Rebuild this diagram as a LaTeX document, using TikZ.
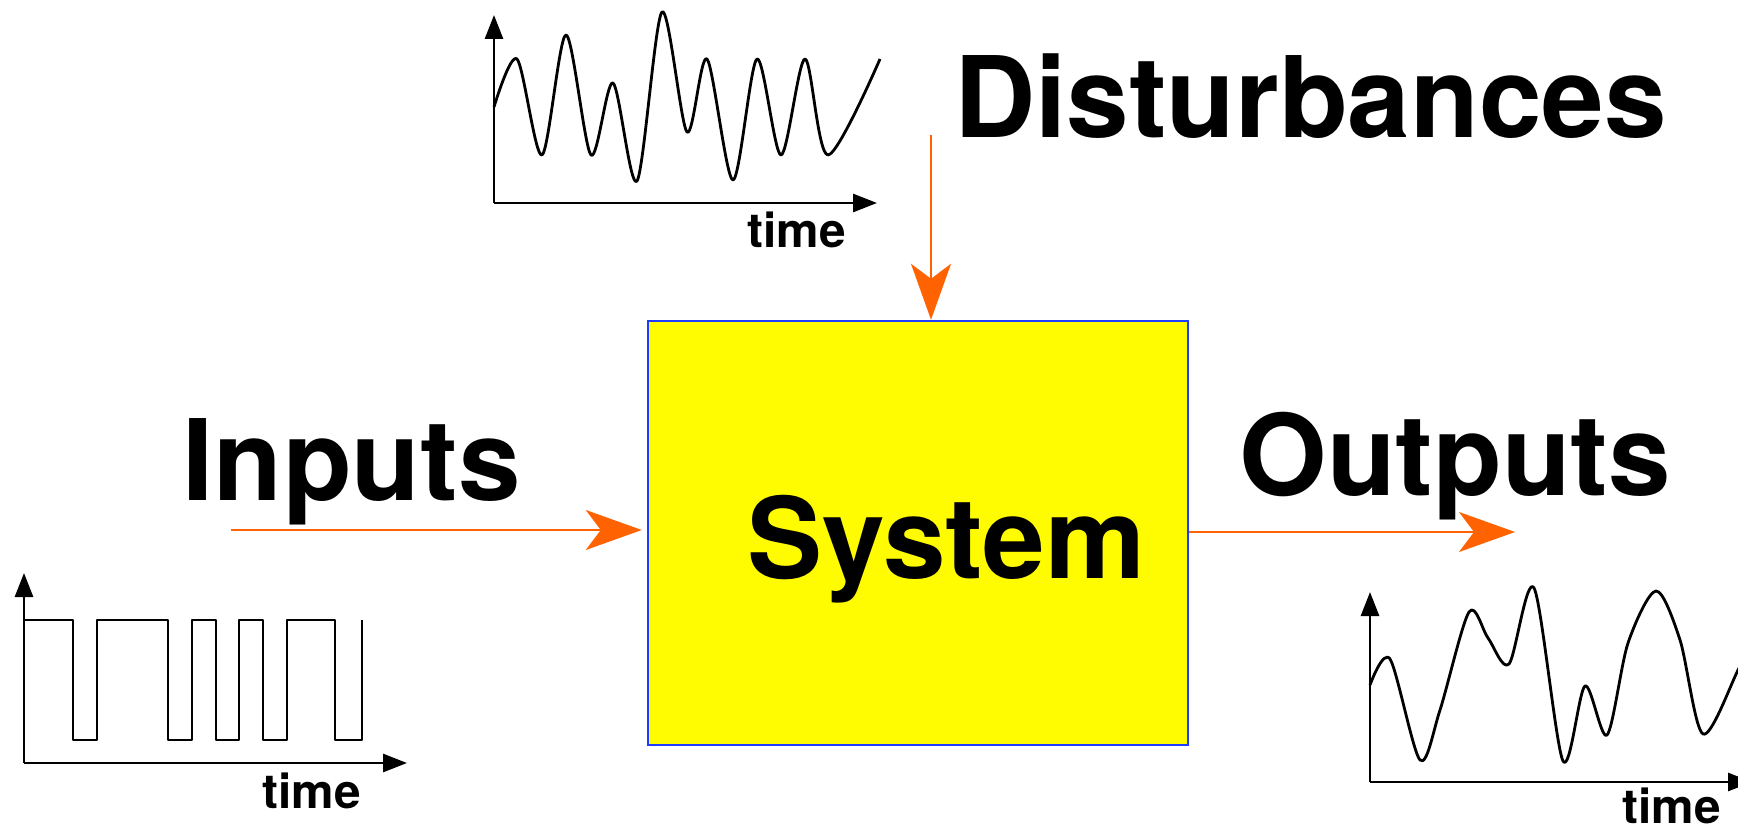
\documentclass[tikz,border=0pt]{standalone}
\usepackage{fontspec}
\setmainfont{TeX Gyre Heros}
\usepackage{tikz}
\usetikzlibrary{arrows.meta,positioning}
\usepackage{xcolor}
\definecolor{sysyellow}{RGB}{255,251,0}
\definecolor{sysblue}{RGB}{30,60,255}
\definecolor{sigorange}{RGB}{255,98,0}
\tikzstyle{sysblock} = [rectangle, minimum width=5.4cm, minimum height=4.24cm, draw=sysblue, fill=sysyellow, line width=0.7pt]
\tikzstyle{sigarrow} = [line width=0.6pt, color=sigorange, -{Stealth[length=5.6mm, width=4mm, inset=1.5mm]}]
\tikzstyle{axisline} = [line width=0.8pt, -{Triangle[length=2.4mm, width=1.8mm]}]
\tikzstyle{signal} = [line width=0.8pt, line join=round]
\tikzstyle{biglabel} = [inner sep=0pt, anchor=base west, font=\bfseries\fontsize{32}{36}\selectfont]
\tikzstyle{timelabel} = [inner sep=0pt, anchor=base west, font=\bfseries\fontsize{13.6}{16}\selectfont]

\begin{document}
\begin{tikzpicture}
\useasboundingbox (0,0) rectangle (17.38,8.31);

% System block
\node[sysblock] (sys) at (9.18,2.98) {};
\node[biglabel] (systxt) at (7.465,2.53) {System};

% Big labels
\node[biglabel] (dist) at (9.535,6.937) {Disturbances};
\node[biglabel] (inp) at (1.82,3.31) {Inputs};
\node[biglabel] (outp) at (12.39,3.35) {Outputs};

% Loose arrow ends
\coordinate (dsrc) at (9.31,6.96);
\coordinate (isrc) at (2.31,3.01);
\coordinate (odst) at (15.15,2.99);

% Signal arrows
\draw[sigarrow] (dsrc) -- (dsrc |- sys.north);
\draw[sigarrow, shorten >=0.5mm] (isrc) -- (isrc -| sys.west);
\draw[sigarrow] (sys.east |- odst) -- (odst);

% Disturbance plot
\draw[axisline] (4.94,6.28) -- (4.94,8.16);
\draw[axisline] (4.94,6.28) -- (8.77,6.28);
\draw[signal] plot[smooth] coordinates {(4.94,7.24) (5.17,7.72) (5.42,6.76) (5.66,7.96) (5.91,6.76) (6.13,7.48) (6.37,6.50) (6.62,8.19) (6.87,6.99) (7.07,7.72) (7.33,6.51) (7.57,7.72) (7.81,6.76) (8.05,7.72) (8.28,6.76) (8.80,7.72)};
\node[timelabel] (dtime) at (7.47,5.83) {time};

% Input plot
\draw[axisline] (0.24,0.68) -- (0.24,2.58);
\draw[axisline] (0.24,0.68) -- (4.07,0.68);
\draw[signal] (0.24,2.11) -| (0.73,0.91) -| (0.97,2.11) -| (1.68,0.91) -| (1.92,2.11) -| (2.16,0.91) -| (2.39,2.11) -| (2.63,0.91) -| (2.87,2.11) -| (3.35,0.91) -| (3.62,2.11);
\node[timelabel] (itime) at (2.62,0.23) {time};

% Output plot
\draw[axisline] (13.70,0.49) -- (13.70,2.39);
\draw[axisline] (13.70,0.49) -- (17.52,0.49);
\draw[signal] plot[smooth] coordinates {(13.70,1.46) (13.90,1.72) (14.20,0.71) (14.40,1.21) (14.69,2.19) (14.88,1.93) (15.09,1.67) (15.34,2.43) (15.63,0.70) (15.85,1.45) (16.07,0.96) (16.28,1.88) (16.56,2.40) (16.80,1.91) (17.03,0.97) (17.38,1.61) (17.60,2.11)};
\node[timelabel] (otime) at (16.22,0.08) {time};
\end{tikzpicture}
\end{document}
